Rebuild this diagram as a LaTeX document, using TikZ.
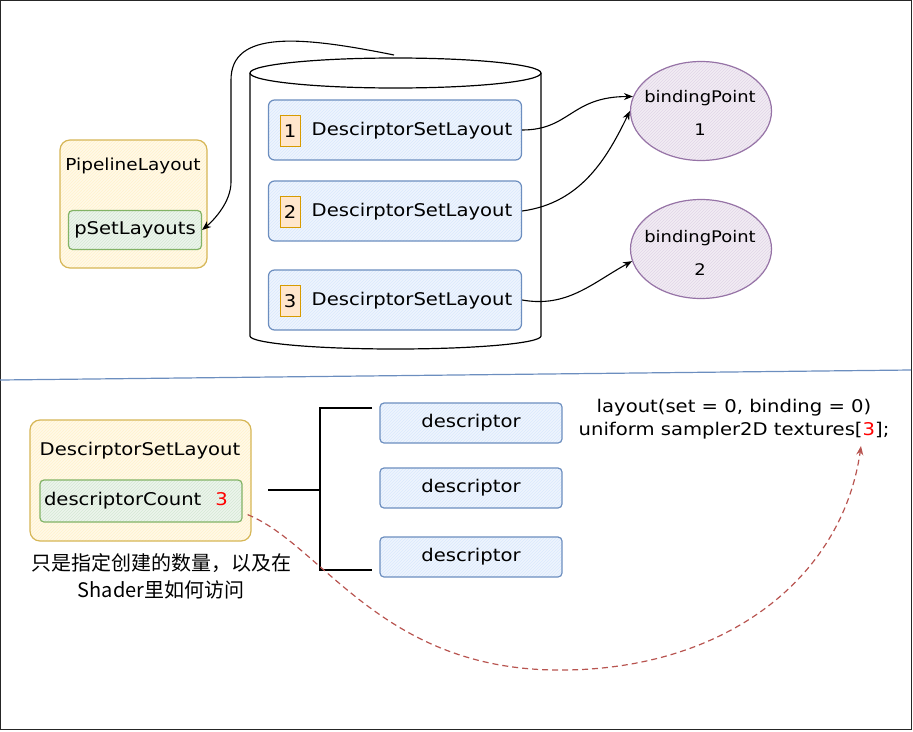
\documentclass[tikz,border=0pt]{standalone}
\usepackage{fontspec}
\setmainfont{DejaVu Sans}[FakeStretch = 1.12]
\newfontfamily\cjk{Noto Sans CJK SC}
\usetikzlibrary{arrows.meta,patterns,shapes.geometric}
\definecolor{blueline}{HTML}{6C8EBF}
\definecolor{bluefill}{HTML}{DAE8FC}
\definecolor{yellowline}{HTML}{D6B656}
\definecolor{yellowfill}{HTML}{FFF2CC}
\definecolor{greenline}{HTML}{82B366}
\definecolor{greenfill}{HTML}{D5E8D4}
\definecolor{purpleline}{HTML}{9673A6}
\definecolor{purplefill}{HTML}{E1D5E7}
\definecolor{orangeline}{HTML}{D79B00}
\definecolor{orangefill}{HTML}{FFE6CC}
\definecolor{redline}{HTML}{B85450}
\begin{document}
\begin{tikzpicture}[x = 1pt, y = -1pt, font = \fontsize{17.5}{20}\selectfont,
	hatch/.style = {preaction = {fill = #1!45}, pattern = north east lines, pattern color = #1},
	bluebox/.style = {draw = blueline, line width = 1.2pt, rounded corners = 6pt, hatch = bluefill},
	yellowbox/.style = {draw = yellowline, line width = 1.2pt, rounded corners = 10pt, hatch = yellowfill},
	greenbox/.style = {draw = greenline, line width = 1.2pt, rounded corners = 4pt, hatch = greenfill},
	numbox/.style = {draw = orangeline, line width = 1pt, fill = orangefill, minimum width = 20pt, minimum height = 31pt, inner sep = 0pt},
	bpoint/.style = {ellipse, draw = purpleline, line width = 1.2pt, hatch = purplefill, minimum width = 141pt, minimum height = 99pt, inner sep = 0pt},
	bptext/.style = {align = center, font = \fontsize{16}{18}\selectfont},
	arr/.style = {-{Stealth[length = 9pt, width = 7pt]}, line width = 1.1pt}]
	\useasboundingbox (0,0) rectangle (913,731);
	\draw [black!85, line width = 1pt] (0.5,0.5) rectangle (911.5,729.5);
	% pipeline layout
	\node [yellowbox, minimum width = 147pt, minimum height = 128pt] (pipe) at (133.5,204) {};
	\node [font = \fontsize{16.5}{20}\selectfont] (pipetitle) at (133,166) {PipelineLayout};
	\node [greenbox, minimum width = 133pt, minimum height = 39pt] (pset) at (135,230) {pSetLayouts};
	% set layouts store
	\draw [line width = 1.2pt] (250,73) -- (250,336) arc (180:0:145.5 and 13) -- (541,73);
	\draw [line width = 1.2pt] (395.5,73) ellipse (145.5 and 15);
	\coordinate (cyltop) at (394,55);
	\node [bluebox, minimum width = 253pt, minimum height = 60pt] (set1) at (395,130) {};
	\node [bluebox, minimum width = 253pt, minimum height = 60pt] (set2) at (395,211) {};
	\node [bluebox, minimum width = 253pt, minimum height = 60pt] (set3) at (395,300) {};
	\node [numbox] (n1) at (290,131) {1};
	\node [numbox] (n2) at (290,212) {2};
	\node [numbox] (n3) at (290,301) {3};
	\node (t1) at (412,131) {DescirptorSetLayout};
	\node (t2) at (412,212) {DescirptorSetLayout};
	\node (t3) at (412,301) {DescirptorSetLayout};
	% binding points
	\node [bpoint] (bp1) at (701,111) {};
	\node [bpoint] (bp2) at (701,249) {};
	\node [bptext] (bp1text) at (700,113) {bindingPoint\\[15pt]1};
	\node [bptext] (bp2text) at (700,253) {bindingPoint\\[15pt]2};
	\draw [arr] (set1.east) .. controls +(48,0) and +(-62,0) .. (bp1.168);
	\draw [arr] (set2.east) .. controls +(60,-8) and +(-22,45) .. (bp1.west);
	\draw [arr] (set3.east) .. controls +(45,8) and +(-40,22) .. (bp2.190);
	\draw [arr] (cyltop) .. controls (300,36) and (231,30) .. (231,80) -- (231,182) .. controls (231,202) and (214,220) .. (pset.east);
	% separator
	\draw [blueline, line width = 1.2pt] (0,380) -- (911,370);
	% descriptor set layout
	\node [yellowbox, minimum width = 221pt, minimum height = 121pt] (dsl) at (140.5,480.5) {};
	\node (dsltitle) at (140,451) {DescirptorSetLayout};
	\node [greenbox, minimum width = 202pt, minimum height = 42pt, text width = 194pt, inner xsep = 4pt, align = left] (dcount) at (141,501) {descriptorCount\hspace{14pt}{\color{red}3}};
	\node [font = \cjk\fontsize{20}{27}\selectfont, align = center] (note) at (161,576) {只是指定创建的数量，以及在\\Shader里如何访问};
	% descriptors
	\draw [line width = 2.6pt] (268,490) -- (320,490);
	\draw [line width = 2.6pt] (372,408) -- (320,408) -- (320,570) -- (372,570);
	\node [bluebox, rounded corners = 4pt, minimum width = 182pt, minimum height = 40pt] (d1) at (471,423) {descriptor};
	\node [bluebox, rounded corners = 4pt, minimum width = 182pt, minimum height = 40pt] (d2) at (471,488) {descriptor};
	\node [bluebox, rounded corners = 4pt, minimum width = 182pt, minimum height = 40pt] (d3) at (471,557) {descriptor};
	% shader code
	\node [align = center, font = \fontsize{17.5}{23}\selectfont] (code) at (734,419) {layout(set = 0, binding = 0)\\uniform sampler2D textures[{\color{red}3}];};
	\coordinate (idx) at (861,446);
	\draw [arr, redline, dash pattern = on 6pt off 4pt, line width = 1.2pt] ([xshift = 5pt, yshift = 8pt]dcount.south east) .. controls (322,545) and (380,668) .. (555,670) .. controls (722,672) and (842,580) .. (idx);
\end{tikzpicture}
\end{document}
